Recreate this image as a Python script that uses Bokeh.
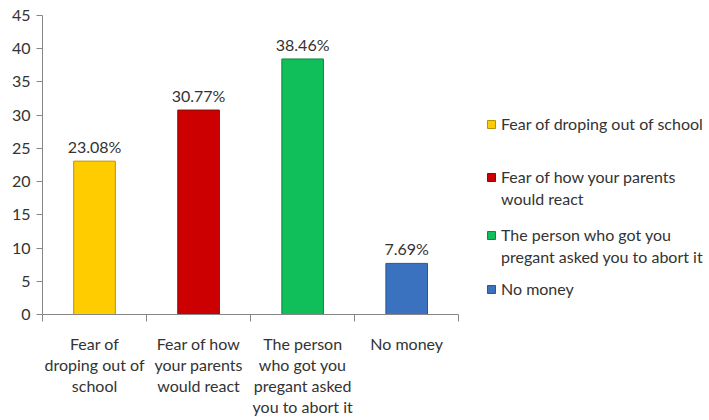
from bokeh.plotting import figure
from bokeh.models import ColumnDataSource, FixedTicker, Range1d, Legend, LegendItem
from bokeh.core.properties import value
from bokeh.embed import file_html
from bokeh.resources import INLINE

categories = ["Fear of droping out of school", "Fear of how your parents would react",
              "The person who got you pregant asked you to abort it", "No money"]
axis_labels = ["Fear of\ndroping out of\nschool", "Fear of how\nyour parents\nwould react",
               "The person\nwho got you\npregant asked\nyou to abort it", "No money"]
legend_lines = [["Fear of droping out of school"],
                ["Fear of how your parents", "would react"],
                ["The person who got you", "pregant asked you to abort it"],
                ["No money"]]
values = [23.08, 30.77, 38.46, 7.69]
value_labels = ["23.08%", "30.77%", "38.46%", "7.69%"]
y_ticks = [0, 5, 10, 15, 20, 25, 30, 35, 40, 45]

colors = ["#FFCC00", "#CC0000", "#10BE5A", "#3A72C0"]
outlines = ["#B8920A", "#8A0A0A", "#0A8A40", "#2A5590"]

FONT = "Lato"
xs = [i + 0.5 for i in range(len(values))]

p = figure(width=709, height=420, output_backend="svg", toolbar_location=None,
           x_range=Range1d(0, 6.41), y_range=Range1d(0, 45),
           min_border_left=42, min_border_right=0, min_border_top=15, min_border_bottom=106)
p.outline_line_color = None
p.xgrid.visible = False
p.ygrid.visible = False
p.background_fill_color = "white"
p.border_fill_color = "white"

renderers = []
for i in range(len(values)):
    src = ColumnDataSource(dict(x=[xs[i]], top=[values[i]], lab=[value_labels[i]]))
    r = p.vbar(x="x", top="top", bottom=0, width=0.4, source=src,
               fill_color=colors[i], line_color=outlines[i], line_width=1)
    renderers.append(r)
    p.text(x="x", y="top", text="lab", source=src, text_align="center", text_baseline="bottom",
           y_offset=-5, text_font=value(FONT), text_font_size="16px", text_color="#333333")

# invisible renderer for continuation lines of legend labels
blank = p.vbar(x=[], top=[], bottom=0, width=0.4, fill_alpha=0, line_alpha=0)

# axes
yax = p.yaxis[0]
yax.ticker = FixedTicker(ticks=y_ticks)
yax.axis_line_color = "#868686"
yax.major_tick_line_color = "#868686"
yax.major_tick_out = 6
yax.major_tick_in = 0
yax.minor_tick_line_color = None
yax.major_label_text_font = FONT
yax.major_label_text_font_size = "16px"
yax.major_label_text_color = "#333333"
yax.major_label_standoff = 6
yax.bounds = (0, 45)

xax = p.xaxis[0]
xax.ticker = FixedTicker(ticks=xs, minor_ticks=[0, 1, 2, 3, 4])
xax.bounds = (0, 4)
xax.axis_line_color = "#868686"
xax.major_tick_out = 0
xax.major_tick_in = 0
xax.minor_tick_out = 7
xax.minor_tick_in = 0
xax.minor_tick_line_color = "#868686"
xax.major_label_overrides = {xs[i]: axis_labels[i] for i in range(len(xs))}
xax.major_label_text_font = FONT
xax.major_label_text_font_size = "16px"
xax.major_label_text_color = "#333333"
xax.major_label_text_line_height = 1.12
xax.major_label_standoff = 12

# legend: one single-line legend per text line, to reproduce the spacing
line_locs = [[181], [128, 106], [70, 48], [16]]
for i in range(len(values)):
    for j, txt in enumerate(legend_lines[i]):
        rend = renderers[i] if j == 0 else blank
        lg = Legend(items=[LegendItem(label=txt, renderers=[rend])],
                    location=(444, line_locs[i][j]), padding=0, margin=0, border_line_color=None,
                    background_fill_alpha=0, glyph_width=10, glyph_height=10,
                    label_standoff=5, label_text_font=FONT, label_text_font_size="16px",
                    label_text_color="#333333", spacing=0, label_height=18)
        p.add_layout(lg, "center")

open("out.html", "w").write(file_html(p, INLINE))
